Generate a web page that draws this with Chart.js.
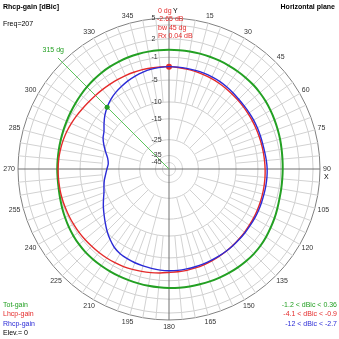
<!DOCTYPE html>
<html>
<head>
<meta charset="utf-8">
<script src="https://cdn.jsdelivr.net/npm/chart.js@4/dist/chart.umd.min.js"></script>
<style>
  html, body { margin: 0; padding: 0; background: #fff; }
</style>
</head>
<body>
<canvas id="patternChart" width="339" height="339"></canvas>
<script>
// azimuth every 5 degrees, clockwise from Y (top)
const azimuth = Array.from({ length: 72 }, (_, i) => i * 5);

// ring labels of the dB axis and where each ring sits (fraction of outer radius)
const ringDb = [5, 2, -1, -5, -10, -15, -25, -35, -45];
const ringFrac = [1, 0.862, 0.740, 0.589, 0.444, 0.332, 0.194, 0.089, 0.043];
const extraRingDb = [4];

const totGain = [
  0.22, 0.22, 0.24, 0.25, 0.26, 0.26, 0.25, 0.24, 0.22, 0.20, 0.12, 0.02,
  -0.11, -0.24, -0.36, -0.47, -0.58, -0.65, -0.68, -0.68, -0.64, -0.57, -0.42, -0.24,
  -0.08, 0.10, 0.25, 0.34, 0.36, 0.36, 0.34, 0.31, 0.28, 0.24, 0.22, 0.20,
  0.18, 0.15, 0.12, 0.08, 0.06, 0.05, 0.04, 0.03, 0.02, 0.00, -0.08, -0.20,
  -0.35, -0.52, -0.68, -0.83, -0.95, -1.00, -1.00, -1.00, -0.98, -0.94, -0.88, -0.80,
  -0.70, -0.58, -0.44, -0.30, -0.17, -0.05, 0.04, 0.11, 0.16, 0.19, 0.21, 0.22
];
const lhcpGain = [
  -2.65, -2.72, -2.80, -2.88, -2.98, -3.08, -3.18, -3.30, -3.42, -3.52, -3.60, -3.67,
  -3.72, -3.76, -3.79, -3.80, -3.80, -3.78, -3.74, -3.70, -3.66, -3.62, -3.57, -3.52,
  -3.46, -3.40, -3.32, -3.24, -3.14, -3.04, -2.93, -2.82, -2.72, -2.63, -2.55, -2.50,
  -2.45, -2.30, -2.15, -2.00, -1.85, -1.72, -1.62, -1.55, -1.49, -1.43, -1.36, -1.30,
  -1.26, -1.22, -1.18, -1.15, -1.14, -1.14, -1.15, -1.18, -1.25, -1.36, -1.50, -1.70,
  -1.90, -2.10, -2.25, -2.35, -2.42, -2.47, -2.50, -2.52, -2.54, -2.56, -2.60, -2.63
];
const rhcpGain = [
  -2.65, -2.66, -2.68, -2.70, -2.72, -2.76, -2.84, -2.98, -3.15, -3.30, -3.38, -3.42,
  -3.45, -3.50, -3.55, -3.58, -3.55, -3.46, -3.38, -3.36, -3.36, -3.36, -3.34, -3.30,
  -3.27, -3.25, -3.20, -3.15, -3.10, -3.05, -3.00, -2.95, -2.90, -2.85, -2.80, -2.75,
  -2.75, -2.80, -2.90, -3.00, -3.10, -3.25, -3.45, -3.85, -4.50, -5.30, -6.30, -7.20,
  -8.00, -8.80, -9.50, -9.93, -10.40, -11.00, -11.47, -11.80, -11.40, -10.44, -9.50, -8.70,
  -8.16, -7.20, -6.20, -5.34, -4.70, -4.25, -3.90, -3.55, -3.25, -3.00, -2.82, -2.70
];

const GREEN = '#23a023';
const RED = '#e42a2a';
const BLUE = '#2b2bd6';

// dB -> radial position, piecewise along the labelled rings
function toRadius(db) {
  if (db >= ringDb[0]) return 1;
  for (let i = 1; i < ringDb.length; i++) {
    if (db >= ringDb[i]) {
      const t = (db - ringDb[i]) / (ringDb[i - 1] - ringDb[i]);
      return ringFrac[i] + t * (ringFrac[i - 1] - ringFrac[i]);
    }
  }
  return Math.max(0, ringFrac[ringFrac.length - 1] * (db + 55) / 10);
}

const FONT = '"Liberation Sans", Arial, sans-serif';
const CURSOR = 63; // 315 deg

const polarDecor = {
  id: 'polarDecor',
  beforeDatasetsDraw(chart) {
    const s = chart.scales.r;
    const c = chart.ctx;
    const R = s.drawingArea;
    c.save();
    c.lineWidth = 1;
    // spokes: every 15 deg reach in to the -25 ring, the rest only the outer rings
    for (let i = 0; i < azimuth.length; i++) {
      if (i % 18 === 0) continue;
      const inner = s.getDistanceFromCenterForValue(toRadius(i % 3 === 0 ? -25 : -10));
      const a = s.getPointPosition(i, inner);
      const b = s.getPointPosition(i, R);
      c.strokeStyle = '#d2d2d2';
      c.beginPath(); c.moveTo(a.x, a.y); c.lineTo(b.x, b.y); c.stroke();
    }
    // X and Y axes
    c.strokeStyle = '#707070';
    [[0, 36], [18, 54]].forEach(([p, q]) => {
      const a = s.getPointPosition(p, R);
      const b = s.getPointPosition(q, R);
      c.beginPath(); c.moveTo(a.x, a.y); c.lineTo(b.x, b.y); c.stroke();
    });
    // cursor line
    const m = s.getPointPosition(CURSOR, R + 6);
    c.strokeStyle = '#5cc45c';
    c.beginPath(); c.moveTo(s.xCenter, s.yCenter); c.lineTo(m.x, m.y); c.stroke();
    c.restore();
  },
  afterDraw(chart) {
    const s = chart.scales.r;
    const c = chart.ctx;
    const R = s.drawingArea;
    c.save();
    c.font = '7px ' + FONT;
    c.fillStyle = '#333';
    // azimuth labels (the cursor angle carries its own label)
    c.textBaseline = 'middle';
    for (let i = 3; i < azimuth.length; i += 3) {
      if (i === CURSOR) continue;
      const deg = azimuth[i];
      const th = deg * Math.PI / 180;
      const p = s.getPointPosition(i, R + 3);
      const txt = String(deg);
      const w = c.measureText(txt).width;
      c.textAlign = 'center';
      c.fillText(txt, p.x + Math.sin(th) * w / 2, p.y - Math.cos(th) * 4.5);
    }
    // ring labels
    c.textAlign = 'left';
    ringDb.forEach((db, k) => {
      const p = s.getPointPosition(0, s.getDistanceFromCenterForValue(ringFrac[k]));
      c.fillText(String(db), p.x - 17.5, p.y);
    });
    c.fillStyle = '#000';
    c.fillText('Y', s.xCenter + 4, 11);
    c.fillText('X', s.xCenter + R + 4, 177);

    // titles
    c.font = 'bold 7px ' + FONT;
    c.fillText('Rhcp-gain [dBic]', 3, 7);
    c.textAlign = 'right';
    c.fillText('Horizontal plane', 335, 7);
    c.font = '7px ' + FONT;
    c.textAlign = 'left';
    c.fillText('Freq=207', 3, 24);

    // cursor readout
    c.fillStyle = RED;
    c.fillText('0 dg', 158, 11);
    c.fillText('-2.65 dB', 157, 19.5);
    c.fillText('bw 45 dg', 158, 28);
    c.fillText('Rx 0.04 dB', 158, 36.5);
    c.fillStyle = GREEN;
    const lp = s.getPointPosition(CURSOR, R + 8);
    c.fillText(azimuth[CURSOR] + ' dg', lp.x - 14, lp.y - 7);

    // legend
    const rows = [['Tot-gain', GREEN, '-1.2 < dBic < 0.36'],
                  ['Lhcp-gain', RED, '-4.1 < dBic < -0.9'],
                  ['Rhcp-gain', BLUE, '-12 < dBic < -2.7']];
    rows.forEach(([name, col, range], k) => {
      const y = 305 + k * 9.3;
      c.fillStyle = col;
      c.textAlign = 'left';
      c.fillText(name, 3, y);
      c.textAlign = 'right';
      c.fillText(range, 337, y);
    });
    c.fillStyle = '#000';
    c.textAlign = 'left';
    c.fillText('Elev.= 0', 3, 333);
    c.restore();
  }
};

new Chart(document.getElementById('patternChart'), {
  type: 'radar',
  data: {
    labels: azimuth,
    datasets: [
      { label: 'Rhcp-gain', data: rhcpGain.map(v => toRadius(v)), borderColor: BLUE, order: 0,
        pointRadius: c => (c.index === CURSOR ? 2.5 : 0), pointBackgroundColor: GREEN, pointBorderWidth: 0 },
      { label: 'Lhcp-gain', data: lhcpGain.map(v => toRadius(v)), borderColor: RED, order: 1,
        pointRadius: c => (c.index === 0 ? 3 : 0), pointBackgroundColor: RED, pointBorderWidth: 0 },
      { label: 'Tot-gain', data: totGain.map(v => toRadius(v)), borderColor: GREEN, order: 2, borderWidth: 2 }
    ]
  },
  options: {
    responsive: false,
    animation: false,
    layout: { padding: 18 },
    elements: {
      line: { tension: 0.3, borderWidth: 1.4, fill: false },
      point: { radius: 0, hoverRadius: 0 }
    },
    plugins: { legend: { display: false }, tooltip: { enabled: false } },
    scales: {
      r: {
        min: 0,
        max: 1,
        startAngle: 0,
        afterBuildTicks: scale => {
          const vals = [0, ...ringFrac, ...extraRingDb.map(toRadius)].sort((a, b) => a - b);
          scale.ticks = vals.map(v => ({ value: v }));
        },
        ticks: { display: false },
        grid: {
          color: ctx => (ctx.tick && ctx.tick.value === 1 ? '#808080' : '#cfcfcf'),
          lineWidth: 1
        },
        angleLines: { display: false },
        pointLabels: { display: false }
      }
    }
  },
  plugins: [polarDecor]
});
</script>
</body>
</html>
